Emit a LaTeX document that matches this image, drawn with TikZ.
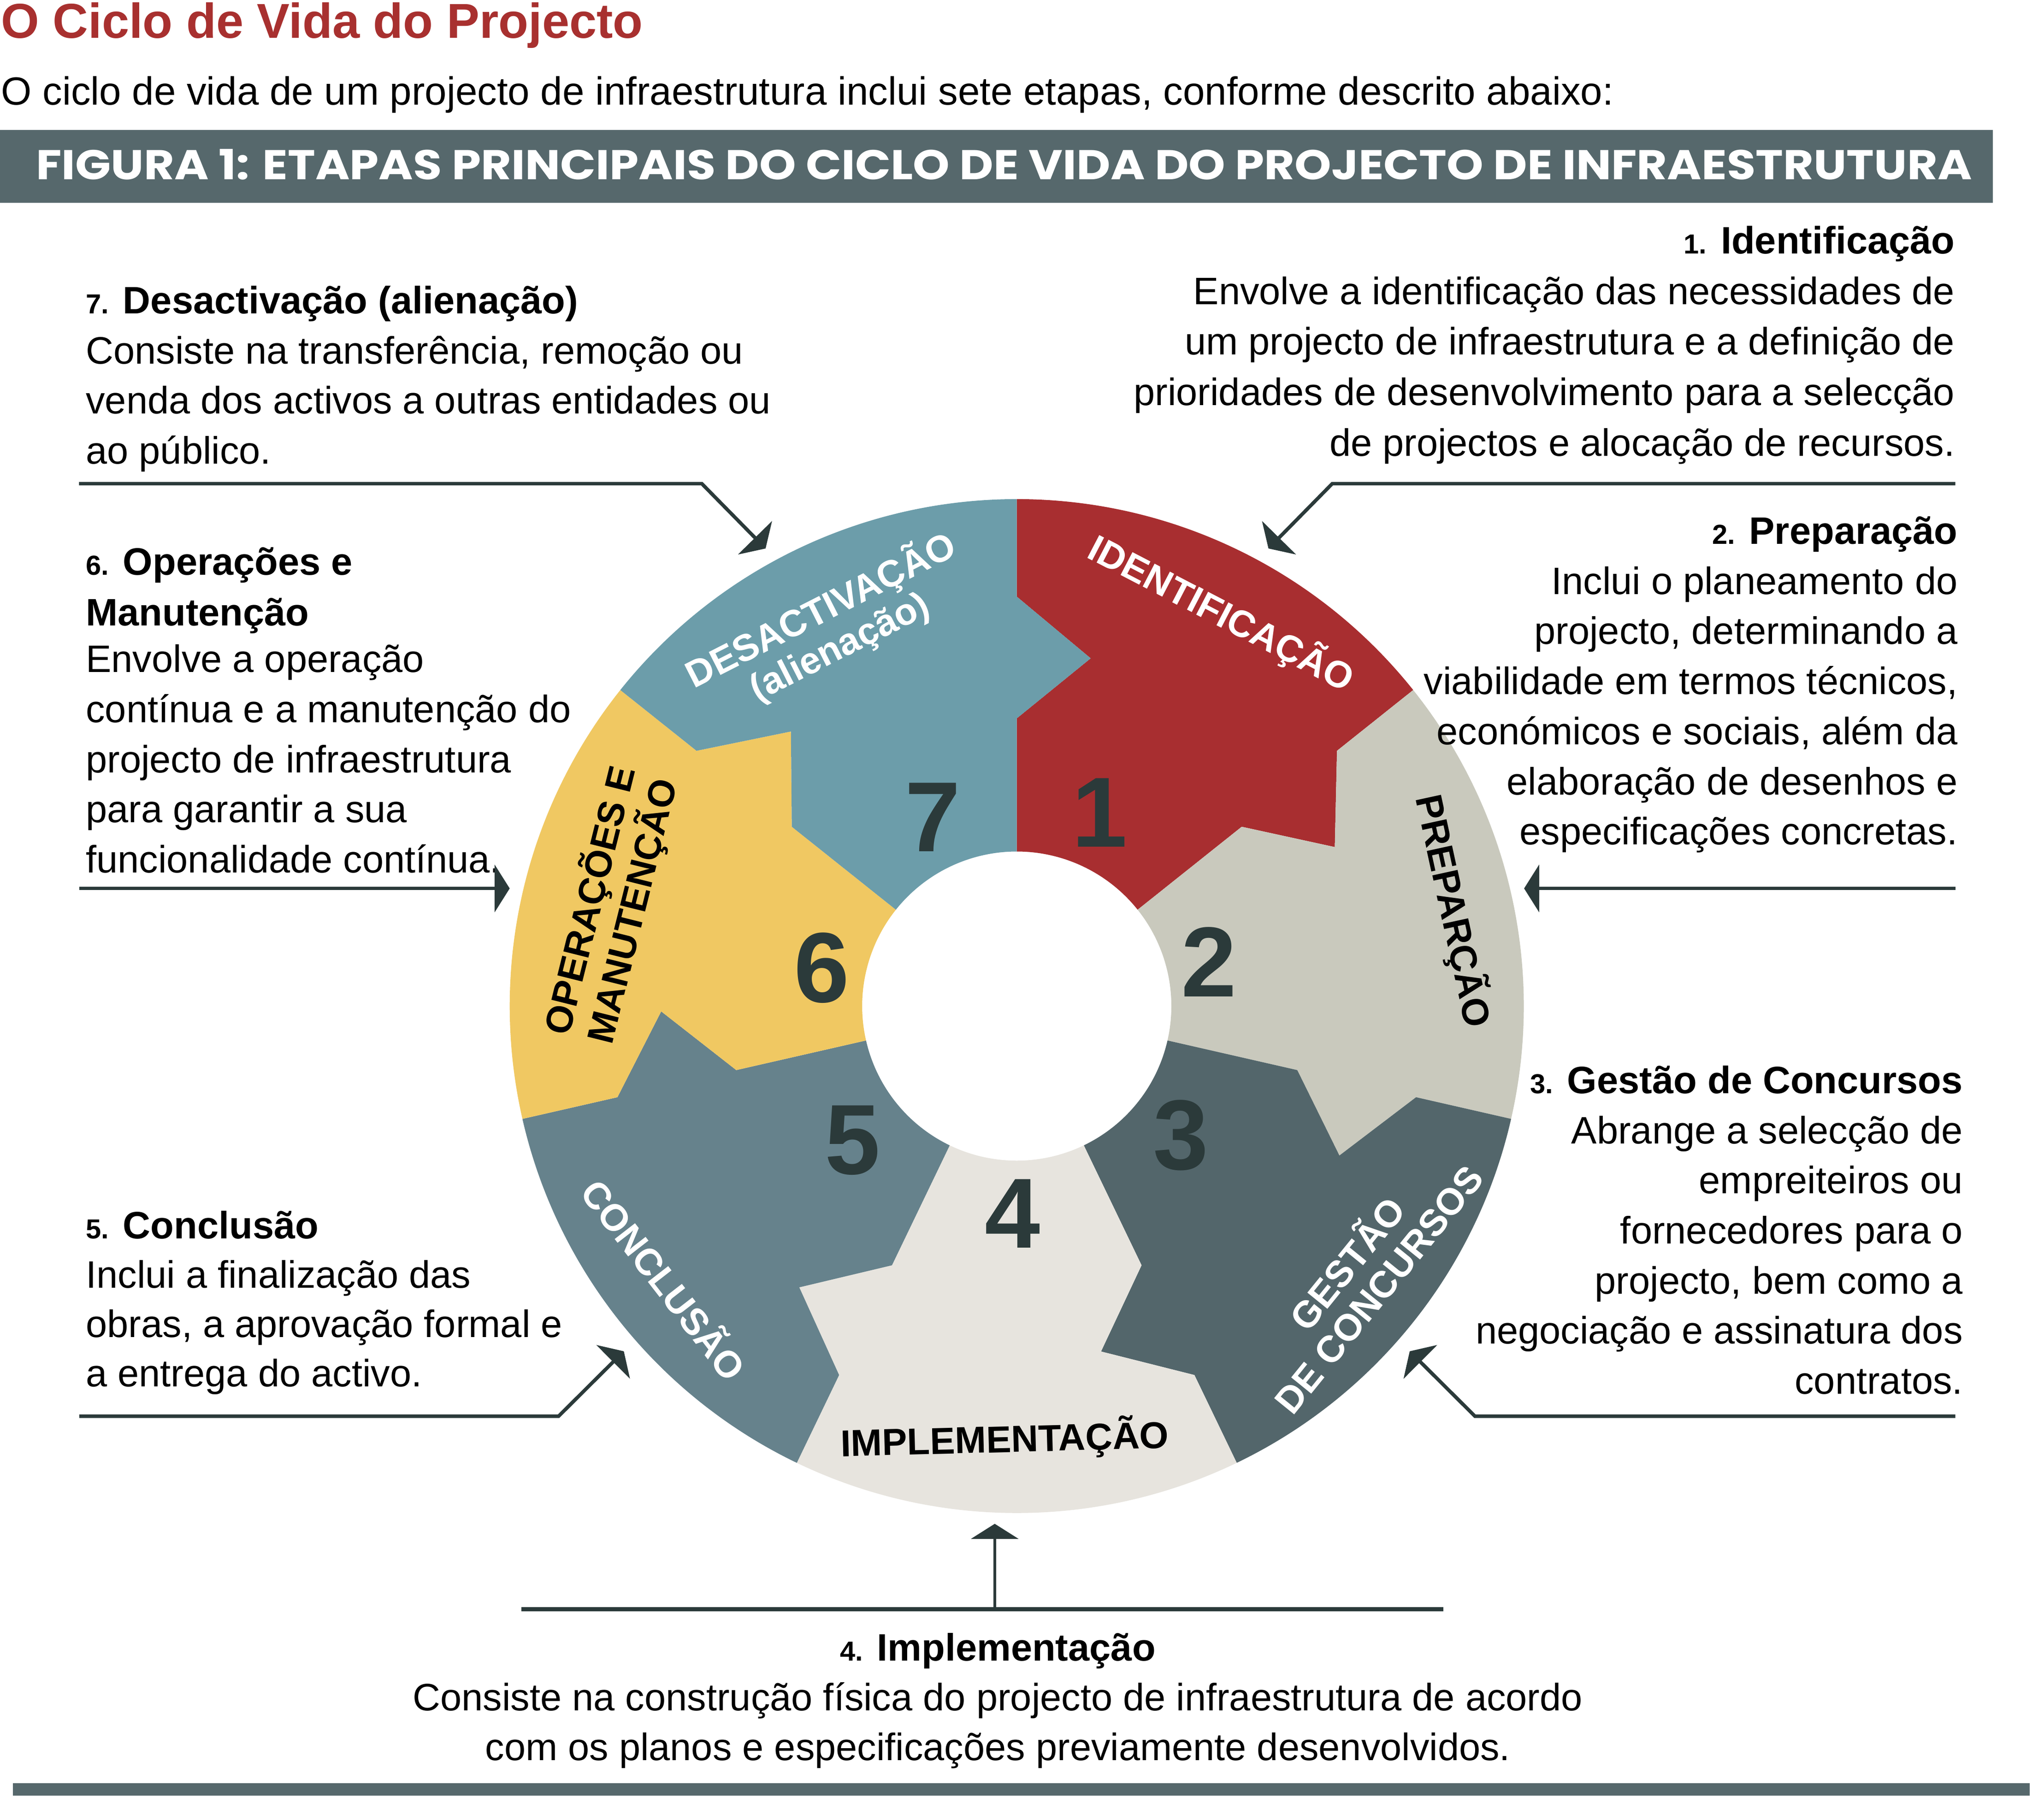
\documentclass[tikz,border=0pt]{standalone}
\usepackage{fontspec}
\setmainfont{Liberation Sans}
\newfontfamily\headfont{Poppins}
\usetikzlibrary{arrows.meta}
\definecolor{ttlred}{HTML}{A8302F}
\definecolor{barslate}{HTML}{56686C}
\definecolor{inkdark}{HTML}{2B3A3A}
\definecolor{segA}{HTML}{A82E30}
\definecolor{segB}{HTML}{C9C9BD}
\definecolor{segC}{HTML}{53666B}
\definecolor{segD}{HTML}{E7E4DE}
\definecolor{segE}{HTML}{66828C}
\definecolor{segF}{HTML}{F0C862}
\definecolor{segG}{HTML}{6C9DAA}
\newcommand{\stepno}[1]{{\fontsize{10.5}{10.5}\selectfont #1}}
\tikzstyle{txt}=[inner sep=0pt,font=\fontsize{14.6}{19}\selectfont]
\tikzstyle{head}=[inner sep=0pt,font=\fontsize{14.6}{19}\selectfont\bfseries]
\tikzstyle{seglabel}=[inner sep=0pt,align=center,font=\fontsize{14.3}{15.5}\selectfont\bfseries]
\tikzstyle{segnum}=[inner sep=0pt,text=inkdark,font=\fontsize{38}{38}\selectfont\bfseries]
\tikzstyle{pointer}=[draw=inkdark,line width=1.35pt,-{Triangle[length=5.75pt,width=18pt]}]

\begin{document}
\begin{tikzpicture}[x=0.5pt,y=0.5pt]
\useasboundingbox (0,0) rectangle (1560,-1385.5);

% title, intro and figure bar
\node[inner sep=0pt,anchor=base west,text=ttlred,font=\fontsize{18.7}{20}\selectfont\bfseries] (title) at (0.5,-29.1) {O Ciclo de Vida do Projecto};
\node[txt,anchor=base west,font=\fontsize{15}{19}\selectfont] (intro) at (0.5,-80.2) {O ciclo de vida de um projecto de infraestrutura inclui sete etapas, conforme descrito abaixo:};
\fill[barslate] (0,-99.2) rectangle (1521,-154.7);
\node[inner sep=0pt,anchor=base west,text=white,font=\headfont\bfseries\fontsize{15.9}{16}\selectfont] (figbar) at (27.2,-137) {\scalebox{1.12}[1]{FIGURA 1: ETAPAS PRINCIPAIS DO CICLO DE VIDA DO PROJECTO DE INFRAESTRUTURA}};

% the wheel
\begin{scope}[shift={(776,-768)}]
  \foreach \a/\col in {90/segA, 38.57/segB, -12.86/segC, -64.29/segD, -115.71/segE, -167.14/segF, 141.43/segG}
  {
    \pgfmathsetmacro\b{\a-51.4286}
    \fill[\col] (\a:387) arc[start angle=\a, end angle=\b, radius=387] -- (\b:312.6) -- (\b-12:271.4) -- (\b:219.6) -- (\b:118)
      arc[start angle=\b, end angle=\a, radius=118] -- (\a:219.6) -- (\a-12:271.4) -- (\a:312.6) -- cycle;
  }
  \foreach \n/\ang/\rad in {1/66.8/160.8, 2/12.9/150.6, 3/-38.2/159.3, 4/-91.1/158.3, 5/-140.7/161.7, 6/168.9/151.6, 7/113.9/157.7}
    \node[segnum] (num-\n) at (\ang:\rad) {\n};
  \node[seglabel,text=white,rotate=-27.5] (lab-1) at (62.5:338) {IDENTIFICAÇÃO};
  \node[seglabel,rotate=-77.7] (lab-2) at (12.3:341) {PREPARÇÃO};
  \node[seglabel,text=white,rotate=51] (lab-3) at (-38:333) {GESTÃO\\DE CONCURSOS};
  \node[seglabel,rotate=1.5] (lab-4) at (-91.6:331) {IMPLEMENTAÇÃO};
  \node[seglabel,text=white,rotate=-52.2] (lab-5) at (-142.2:339) {CONCLUSÃO};
  \node[seglabel,rotate=76] (lab-6) at (166.1:319) {OPERAÇÕES E\\MANUTENÇÃO};
  \node[seglabel,text=white,rotate=27] (lab-7) at (116.3:322) {DESACTIVAÇÃO\\(alienação)};
\end{scope}

% left column
\node[head,anchor=base west] (s7) at (65.2,-239.4) {\stepno{7.} Desactivação (alienação)};
\foreach \t [count=\i] in {{Consiste na transferência, remoção ou},{venda dos activos a outras entidades ou},{ao público.}}
  \node[txt,anchor=base west] (s7-\i) at (65.2,-239.4-38.2*\i) {\t};
\node[head,anchor=base west] (s6) at (65.2,-438.8) {\stepno{6.} Operações e};
\node[head,anchor=base west] (s6b) at (65.2,-477.5) {Manutenção};
\foreach \t [count=\i] in {{Envolve a operação},{contínua e a manutenção do},{projecto de infraestrutura},{para garantir a sua},{funcionalidade contínua.}}
  \node[txt,anchor=base west] (s6-\i) at (65.2,-475.1-38.2*\i) {\t};
\node[head,anchor=base west] (s5) at (65.2,-945.4) {\stepno{5.} Conclusão};
\foreach \t [count=\i] in {{Inclui a finalização das},{obras, a aprovação formal e},{a entrega do activo.}}
  \node[txt,anchor=base west] (s5-\i) at (65.2,-945.4-37.7*\i) {\t};

% right column
\node[head,anchor=base east] (s1) at (1492.3,-193.7) {\stepno{1.} Identificação};
\foreach \t [count=\i] in {{Envolve a identificação das necessidades de},{um projecto de infraestrutura e a definição de},{prioridades de desenvolvimento para a selecção},{de projectos e alocação de recursos.}}
  \node[txt,anchor=base east] (s1-\i) at (1492.3,-193.7-38.6*\i) {\t};
\node[head,anchor=base east] (s2) at (1494.5,-415.3) {\stepno{2.} Preparação};
\foreach \t [count=\i] in {{Inclui o planeamento do},{projecto, determinando a},{viabilidade em termos técnicos,},{económicos e sociais, além da},{elaboração de desenhos e},{especificações concretas.}}
  \node[txt,anchor=base east] (s2-\i) at (1494.5,-415.3-38.25*\i) {\t};
\node[head,anchor=base east] (s3) at (1498.4,-834.7) {\stepno{3.} Gestão de Concursos};
\foreach \t [count=\i] in {{Abrange a selecção de},{empreiteiros ou},{fornecedores para o},{projecto, bem como a},{negociação e assinatura dos},{contratos.}}
  \node[txt,anchor=base east] (s3-\i) at (1498.4,-834.7-38.23*\i) {\t};

% bottom block
\node[head,anchor=base] (s4) at (761.5,-1267.7) {\stepno{4.} Implementação};
\foreach \t [count=\i] in {{Consiste na construção física do projecto de infraestrutura de acordo},{com os planos e especificações previamente desenvolvidos.}}
  \node[txt,anchor=base] (s4-\i) at (761.5,-1267.7-38*\i) {\t};

% pointers into the wheel
\coordinate (p7a) at (60.3,-369.2);
\coordinate (p7b) at (535.6,-369.2);
\coordinate (p7c) at (584.3,-418.7);
\coordinate (p1a) at (1492.3,-369.2);
\coordinate (p1b) at (1016.8,-369.2);
\coordinate (p1c) at (968.1,-418.7);
\coordinate (p6a) at (60.6,-678.2);
\coordinate (p6c) at (389,-678.2);
\coordinate (p2a) at (1492.3,-678.2);
\coordinate (p2c) at (1163.2,-678.2);
\coordinate (p5a) at (60.6,-1081.1);
\coordinate (p5b) at (426.3,-1081.1);
\coordinate (p5c) at (476.1,-1031.5);
\coordinate (p3a) at (1492.3,-1081.1);
\coordinate (p3b) at (1125.7,-1081.1);
\coordinate (p3c) at (1075.9,-1031.5);
\coordinate (p4a) at (398,-1228.5);
\coordinate (p4b) at (1101.4,-1228.5);
\coordinate (p4m) at (759.2,-1228.5);
\coordinate (p4c) at (759.2,-1163.2);
\draw[pointer] (p7a) -- (p7b) -- (p7c);
\draw[pointer] (p1a) -- (p1b) -- (p1c);
\draw[pointer] (p6a) -- (p6c);
\draw[pointer] (p2a) -- (p2c);
\draw[pointer] (p5a) -- (p5b) -- (p5c);
\draw[pointer] (p3a) -- (p3b) -- (p3c);
\draw[draw=inkdark,line width=1.6pt] (p4a) -- (p4b);
\draw[pointer,line width=1pt] (p4m) -- (p4c);

% closing rule
\coordinate (rule-l) at (10,-1366);
\coordinate (rule-r) at (1549,-1366);
\draw[barslate,line width=4.65pt] (rule-l) -- (rule-r);
\end{tikzpicture}
\end{document}
